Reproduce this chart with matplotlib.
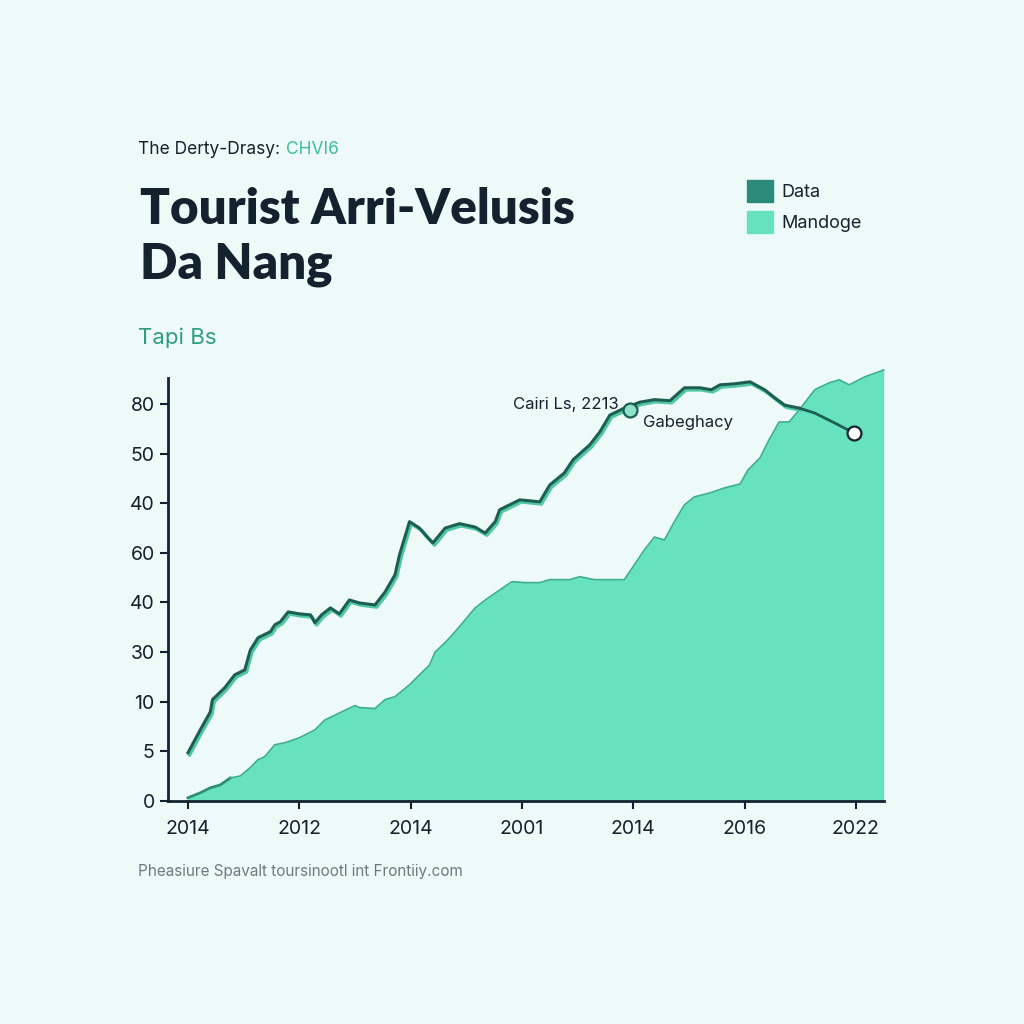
import matplotlib.pyplot as plt
import matplotlib.patheffects as pe
from matplotlib.patches import Patch

# x positions are category slots (0..6), y in tick-step units (0..8)
xtick_labels = ['2014', '2012', '2014', '2001', '2014', '2016', '2022']
ytick_labels = ['0', '5', '10', '30', '40', '60', '40', '50', '80']

data_x = [0, 0.11, 0.2, 0.22, 0.33, 0.42, 0.51, 0.56, 0.63, 0.74, 0.78, 0.83, 0.9,
          1.0, 1.1, 1.14, 1.2, 1.28, 1.36, 1.45, 1.54, 1.68, 1.77, 1.86, 1.9, 1.99,
          2.08, 2.15, 2.2, 2.31, 2.44, 2.58, 2.67, 2.76, 2.8, 2.89, 2.98, 3.16, 3.25,
          3.38, 3.46, 3.61, 3.7, 3.79, 3.92, 4.06, 4.19, 4.33, 4.46, 4.6, 4.7, 4.78,
          4.91, 5.05, 5.18, 5.27, 5.36, 5.49, 5.63, 5.81, 5.98]
data_y = [0.97, 1.43, 1.79, 2.04, 2.28, 2.54, 2.64, 3.04, 3.29, 3.41, 3.55, 3.61, 3.81,
          3.77, 3.75, 3.59, 3.75, 3.89, 3.77, 4.05, 3.99, 3.95, 4.21, 4.56, 4.96, 5.63,
          5.5, 5.32, 5.2, 5.5, 5.59, 5.52, 5.4, 5.63, 5.87, 5.97, 6.07, 6.03, 6.37,
          6.61, 6.88, 7.18, 7.44, 7.78, 7.92, 8.04, 8.09, 8.07, 8.33, 8.33, 8.29, 8.39,
          8.41, 8.45, 8.29, 8.13, 7.98, 7.92, 7.82, 7.62, 7.42]

mand_x = [0, 0.11, 0.2, 0.29, 0.38, 0.47, 0.56, 0.63, 0.69, 0.78, 0.87, 1.0, 1.14,
          1.23, 1.36, 1.5, 1.54, 1.68, 1.77, 1.86, 1.99, 2.08, 2.17, 2.22, 2.31, 2.4,
          2.49, 2.58, 2.67, 2.8, 2.91, 3.03, 3.16, 3.25, 3.43, 3.52, 3.65, 3.92, 4.01,
          4.1, 4.19, 4.28, 4.37, 4.46, 4.55, 4.69, 4.82, 4.96, 5.03, 5.14, 5.22, 5.31,
          5.4, 5.49, 5.63, 5.76, 5.85, 5.94, 6.08, 6.25]
mand_y = [0.06, 0.16, 0.26, 0.32, 0.46, 0.5, 0.67, 0.83, 0.89, 1.13, 1.17, 1.27, 1.43,
          1.63, 1.77, 1.92, 1.88, 1.86, 2.04, 2.1, 2.34, 2.54, 2.74, 3.0, 3.19, 3.41,
          3.65, 3.89, 4.05, 4.25, 4.42, 4.4, 4.4, 4.46, 4.46, 4.52, 4.46, 4.46, 4.76,
          5.06, 5.32, 5.26, 5.63, 5.97, 6.13, 6.21, 6.31, 6.39, 6.67, 6.92, 7.28, 7.64,
          7.64, 7.88, 8.29, 8.43, 8.49, 8.39, 8.55, 8.69]

ann_x, ann_y = 3.97, 7.88

bg = '#eefaf8'
navy = '#13222e'
dark_teal = '#1d5e55'
fill_c = '#66e3be'

plt.rcParams['font.family'] = ['Inter', 'DejaVu Sans']
fig = plt.figure(figsize=(10.24, 10.24), dpi=100, facecolor=bg)
ax = fig.add_axes([0.164, 0.218, 0.699, 0.413], facecolor=bg)

ax.fill_between(mand_x, 0, mand_y, color=fill_c, lw=0, zorder=1, clip_on=False)
ax.plot(mand_x[:5], mand_y[:5], color='#2e8f78', lw=2, zorder=2)
ax.plot(mand_x[4:], mand_y[4:], color='#3aae8e', lw=1.2, zorder=2, clip_on=False)

k = 58
ax.plot(data_x[:k], data_y[:k], color=dark_teal, lw=2.2, zorder=3,
        path_effects=[pe.Stroke(offset=(1.2, -1.5), linewidth=2.6, foreground='#52c7a4'),
                      pe.Normal()])
ax.plot(data_x[k - 1:], data_y[k - 1:], color=dark_teal, lw=2, zorder=3)
ax.plot(data_x[-1], data_y[-1], 'o', ms=10, mfc='white', mec=navy, mew=1.6, zorder=4)
ax.plot(ann_x, ann_y, 'o', ms=10, mfc='#8fe3c8', mec=dark_teal, mew=1.6, zorder=4)
ax.text(ann_x - 0.1, ann_y + 0.12, 'Cairi Ls, 2213', ha='right', va='center',
        fontsize=12, color=navy)
ax.text(ann_x + 0.12, ann_y - 0.25, 'Gabeghacy', ha='left', va='center',
        fontsize=12, color=navy)

ax.set_xlim(-0.18, 6.25)
ax.set_ylim(0, 8.53)
ax.set_xticks(range(len(xtick_labels)))
ax.set_xticklabels(xtick_labels)
ax.set_yticks(range(len(ytick_labels)))
ax.set_yticklabels(ytick_labels)
for s in ['top', 'right']:
    ax.spines[s].set_visible(False)
for s in ['left', 'bottom']:
    ax.spines[s].set_color(navy)
    ax.spines[s].set_linewidth(2)
    ax.spines[s].set_zorder(5)
ax.tick_params(colors=navy, labelsize=14, length=6, width=1.5)
ax.tick_params(axis='x', pad=8)

fig.text(0.135, 0.85, 'The Derty-Drasy: ', fontsize=12.5, color=navy)
fig.text(0.279, 0.85, 'CHVI6', fontsize=12.5, color='#3dbe97')
fig.text(0.137, 0.728, 'Tourist Arri-Velusis\nDa Nang', fontsize=35.5, fontweight='heavy',
         family=['Lato', 'DejaVu Sans'], color=navy, linespacing=1.25)
fig.text(0.135, 0.664, 'Tapi Bs', fontsize=16, color='#2e9e80')
fig.text(0.135, 0.145, 'Pheasiure Spavalt toursinootl int Frontiiy.com', fontsize=11,
         color='#6b7b82')

handles = [Patch(color='#2a8c78', label='Data'), Patch(color=fill_c, label='Mandoge')]
fig.legend(handles=handles, loc='upper left', bbox_to_anchor=(0.714, 0.84), frameon=False,
           fontsize=13, handlelength=1.4, handleheight=1.5, labelcolor=navy,
           handletextpad=0.5, labelspacing=0.5)

fig.savefig('out.png', dpi=100, facecolor=bg)
